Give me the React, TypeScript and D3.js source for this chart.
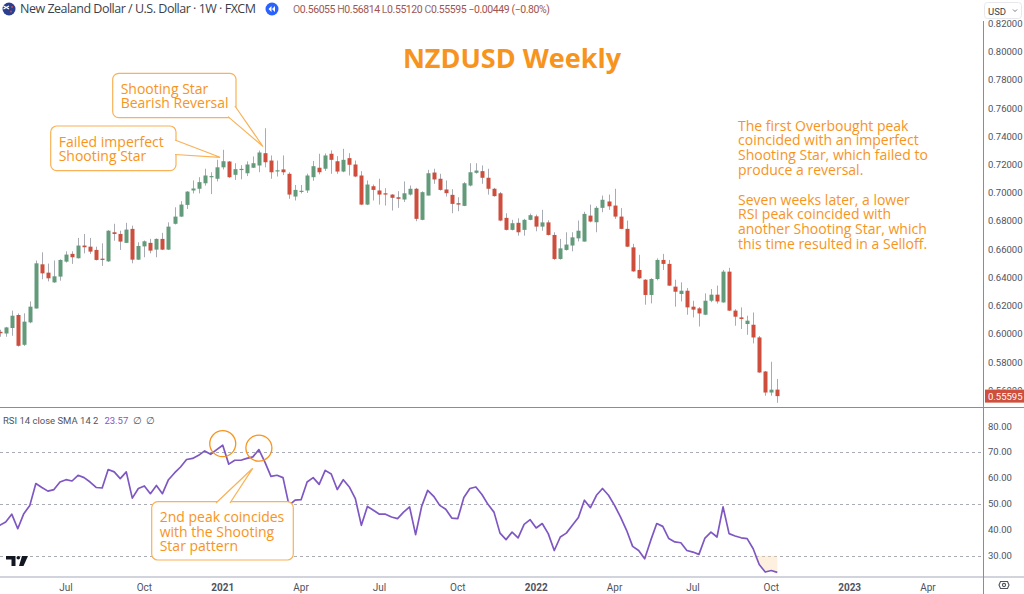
import React from "react";
import * as d3 from "d3";

const W = 1024;
const H = 594;

// weekly FXCM bars, week starts on Sunday
const firstWeek = new Date(2020, 3, 19);

const open = [
  0.6015, 0.6003, 0.6042, 0.6134, 0.5923, 0.6082, 0.618, 0.6493, 0.6434, 0.6365,
  0.6406, 0.6512, 0.6567, 0.6536, 0.6626, 0.6618, 0.6595, 0.6533, 0.6514, 0.672,
  0.6708, 0.6645, 0.6744, 0.6526, 0.662, 0.6645, 0.6597, 0.6673, 0.6597, 0.678,
  0.6831, 0.6914, 0.7016, 0.7028, 0.7067, 0.711, 0.7099, 0.718, 0.7221, 0.7127,
  0.7163, 0.7138, 0.7177, 0.7193, 0.728, 0.7228, 0.7154, 0.7165, 0.7134, 0.6973,
  0.7008, 0.7016, 0.711, 0.7177, 0.717, 0.7276, 0.7223, 0.715, 0.7245, 0.72,
  0.7122, 0.6916, 0.7046, 0.7016, 0.6996, 0.6987, 0.6968, 0.6952, 0.6987, 0.7028,
  0.6808, 0.698, 0.7143, 0.7099, 0.7023, 0.6985, 0.6926, 0.6907, 0.7051, 0.7141,
  0.7153, 0.7106, 0.7028, 0.6996, 0.6822, 0.6737, 0.6787, 0.6737, 0.6808, 0.6833,
  0.676, 0.679, 0.6701, 0.6531, 0.6595, 0.6626, 0.6677, 0.6654, 0.6838, 0.6791,
  0.6893, 0.6938, 0.6909, 0.6831, 0.6744, 0.6613, 0.6453, 0.6384, 0.6276, 0.6389,
  0.6524, 0.6496, 0.6335, 0.6283, 0.6306, 0.6193, 0.6181, 0.6136, 0.6235, 0.6278,
  0.6223, 0.6441, 0.6165, 0.6117, 0.607, 0.6065, 0.5975, 0.5734, 0.5585, 0.56055,
];
const high = [
  0.603, 0.605, 0.6165, 0.6145, 0.6146, 0.623, 0.652, 0.6578, 0.6498, 0.652,
  0.6528, 0.6585, 0.6585, 0.668, 0.6708, 0.668, 0.6618, 0.6642, 0.6735, 0.678,
  0.6731, 0.6787, 0.6767, 0.6649, 0.6662, 0.6673, 0.6676, 0.6716, 0.679, 0.6897,
  0.694, 0.7011, 0.7087, 0.711, 0.717, 0.7145, 0.7233, 0.7304, 0.7225, 0.7209,
  0.7195, 0.7222, 0.7257, 0.7299, 0.7457, 0.7264, 0.7228, 0.7264, 0.7145, 0.7055,
  0.7055, 0.7135, 0.7225, 0.7276, 0.7278, 0.73, 0.7259, 0.7311, 0.728, 0.7228,
  0.7153, 0.7087, 0.7058, 0.7099, 0.7032, 0.699, 0.7011, 0.708, 0.7051, 0.7035,
  0.701, 0.7162, 0.717, 0.7134, 0.7087, 0.7025, 0.6968, 0.7075, 0.7209, 0.7209,
  0.7193, 0.717, 0.7035, 0.7005, 0.6855, 0.6808, 0.6819, 0.6815, 0.6852, 0.6845,
  0.6879, 0.6805, 0.672, 0.6673, 0.672, 0.672, 0.6803, 0.6865, 0.6916, 0.6905,
  0.698, 0.6987, 0.7028, 0.6891, 0.6803, 0.6638, 0.656, 0.6388, 0.6395, 0.6535,
  0.6567, 0.6524, 0.6384, 0.6365, 0.6325, 0.6235, 0.619, 0.6287, 0.6318, 0.6342,
  0.6453, 0.6468, 0.6175, 0.6188, 0.6129, 0.6152, 0.5985, 0.5738, 0.5803, 0.56814,
];
const low = [
  0.598, 0.598, 0.5987, 0.591, 0.5915, 0.6075, 0.618, 0.6387, 0.6372, 0.6362,
  0.6377, 0.6505, 0.6496, 0.6534, 0.6571, 0.6567, 0.652, 0.6482, 0.651, 0.666,
  0.6595, 0.6643, 0.65, 0.6524, 0.6543, 0.6571, 0.6543, 0.6594, 0.6594, 0.6775,
  0.6828, 0.6885, 0.6995, 0.6995, 0.705, 0.699, 0.708, 0.7165, 0.7105, 0.7091,
  0.7095, 0.7118, 0.7175, 0.7145, 0.718, 0.7099, 0.7115, 0.7125, 0.6957, 0.6945,
  0.6995, 0.6998, 0.7085, 0.713, 0.7155, 0.7134, 0.7134, 0.7145, 0.7122, 0.711,
  0.6912, 0.6912, 0.6945, 0.6916, 0.6909, 0.6874, 0.6893, 0.6935, 0.698, 0.6798,
  0.6805, 0.698, 0.7063, 0.7015, 0.6973, 0.6855, 0.6869, 0.6905, 0.7045, 0.7135,
  0.7063, 0.6987, 0.6972, 0.6798, 0.6733, 0.6733, 0.6696, 0.6696, 0.6805, 0.6727,
  0.6731, 0.6697, 0.6524, 0.6526, 0.659, 0.6585, 0.6655, 0.6654, 0.679, 0.672,
  0.6862, 0.6879, 0.6815, 0.6742, 0.6615, 0.644, 0.639, 0.6207, 0.6216, 0.638,
  0.6453, 0.634, 0.6193, 0.623, 0.6136, 0.6117, 0.6053, 0.6133, 0.6225, 0.6215,
  0.6222, 0.6162, 0.6058, 0.6035, 0.5994, 0.5933, 0.5725, 0.5562, 0.5562, 0.5512,
];
const close = [
  0.6005, 0.6046, 0.6129, 0.5916, 0.6087, 0.6193, 0.65, 0.6429, 0.6394, 0.6408,
  0.6524, 0.6562, 0.6543, 0.6626, 0.6614, 0.6583, 0.6524, 0.6524, 0.6731, 0.6708,
  0.6654, 0.6739, 0.6526, 0.6623, 0.6656, 0.659, 0.6673, 0.6597, 0.676, 0.6831,
  0.6916, 0.7008, 0.703, 0.7075, 0.7122, 0.7118, 0.718, 0.7223, 0.711, 0.7167,
  0.7169, 0.72, 0.7209, 0.7285, 0.7216, 0.7145, 0.7159, 0.7145, 0.6987, 0.702,
  0.7014, 0.7122, 0.7188, 0.7145, 0.7264, 0.7233, 0.715, 0.7233, 0.7198, 0.7115,
  0.6916, 0.7058, 0.702, 0.6987, 0.6987, 0.6964, 0.6957, 0.6996, 0.7028, 0.6815,
  0.7004, 0.7138, 0.7094, 0.702, 0.6997, 0.6921, 0.6916, 0.7067, 0.7145, 0.7157,
  0.7106, 0.7028, 0.6976, 0.6803, 0.6737, 0.6784, 0.672, 0.6808, 0.6841, 0.676,
  0.679, 0.6701, 0.6531, 0.6606, 0.6633, 0.6684, 0.6731, 0.685, 0.6796, 0.6893,
  0.695, 0.6904, 0.6831, 0.6744, 0.6618, 0.6443, 0.6394, 0.6276, 0.6389, 0.6524,
  0.6496, 0.6342, 0.6299, 0.6306, 0.6188, 0.6172, 0.6145, 0.6235, 0.6278, 0.623,
  0.6441, 0.6165, 0.6122, 0.6106, 0.6094, 0.5975, 0.5727, 0.5585, 0.5605, 0.55595,
];

// RSI 14 on weekly closes
const rsi = [
  41.7, 43, 46, 40.4, 46.2, 49.4, 57.8, 56.3, 54.9, 55.5,
  58.4, 59.3, 58.8, 61, 60.1, 58.4, 56.3, 56.1, 63.2, 62.3,
  59.7, 62.3, 52.2, 55.9, 56.9, 53.9, 57.1, 53.9, 59.3, 61.9,
  64.2, 67.1, 67.5, 68.7, 70.4, 69.1, 70.9, 72.6, 65.3, 66.8,
  66.8, 67.5, 68.1, 70.9, 66.1, 60.6, 61, 60.1, 49.4, 51.4,
  51.6, 58.4, 60.1, 57.5, 62.9, 61.5, 55.5, 59.3, 56.5, 52,
  41.7, 49, 47.5, 46, 46, 44.9, 44.3, 46.8, 48.8, 38.1,
  49, 55.2, 52.9, 49.4, 47.9, 44.5, 44.3, 52.4, 55.9, 56.5,
  53.6, 49.8, 46.8, 38.7, 36.2, 39.1, 36.9, 42.1, 43.9, 40.7,
  42.4, 38.5, 32, 37.2, 38.7, 41.7, 44.7, 51.4, 48.5, 53.3,
  55.9, 53.3, 49.4, 44.9, 39.8, 33.6, 32, 28.8, 35.9, 42.4,
  41.3, 36.6, 35.3, 35, 32, 31.4, 30.5, 36.8, 39.1, 37.2,
  48.8, 38.5, 37.6, 36.9, 36.6, 32.7, 26.6, 23.7, 24.3, 23.57,
];

const priceTicks = [0.82, 0.8, 0.78, 0.76, 0.74, 0.72, 0.7, 0.68, 0.66, 0.64, 0.62, 0.6, 0.58, 0.56];
const rsiTicks = [80, 70, 60, 50, 40, 30];
const rsiLevels = [70, 50, 30];
const timeTickDates = [
  new Date(2020, 6, 5), new Date(2020, 9, 4), new Date(2021, 0, 3), new Date(2021, 3, 4),
  new Date(2021, 6, 4), new Date(2021, 9, 3), new Date(2022, 0, 2), new Date(2022, 3, 3),
  new Date(2022, 6, 3), new Date(2022, 9, 2), new Date(2023, 0, 1), new Date(2023, 3, 2),
];
const timeTickLabels = ["Jul", "Oct", "2021", "Apr", "Jul", "Oct", "2022", "Apr", "Jul", "Oct", "2023", "Apr"];

const failedStarBar = 37;
const reversalStarBar = 43;

const ORANGE = "#f7941d";
const BOX = "#f8b257";
const UP = "#639a7a";
const DOWN = "#cd4e3d";
const WICK = "#a8abb3";
const AXIS_TEXT = "#50535e";
const ANNO_FONT = "'Open Sans', sans-serif";
const UI_FONT = "Roboto, sans-serif";

const PANE_RIGHT = 983;
const PRICE_BOTTOM = 407;
const RSI_BOTTOM = 577;

const x = d3
  .scaleTime()
  .domain([timeTickDates[0], timeTickDates[timeTickDates.length - 1]])
  .range([66, 928]);
const yPrice = d3.scaleLinear().domain([0.56, 0.82]).range([390.4, 23.3]);
const yRsi = d3.scaleLinear().domain([30, 80]).range([555.7, 426]);

const bars = open.map((o, i) => ({
  date: d3.timeWeek.offset(firstWeek, i),
  o,
  h: high[i],
  l: low[i],
  c: close[i],
  r: rsi[i],
}));

// rounded box with a pointer; base points sit just inside the box
function Callout({ x0, y0, w, h, base, tip, lines, lineGap, size }) {
  const pointer = `M${base[0][0]},${base[0][1]}L${tip[0]},${tip[1]}L${base[1][0]},${base[1][1]}`;
  return (
    <g>
      <rect x={x0} y={y0} width={w} height={h} rx={6} fill="#fff" stroke={BOX} strokeWidth={1.2} />
      <path d={pointer} fill="#fff" stroke={BOX} strokeWidth={1.2} />
      {lines.map((t, i) => (
        <text
          key={i}
          x={x0 + 8}
          y={y0 + 15 + i * lineGap}
          dominantBaseline="central"
          fill={ORANGE}
          fontFamily={ANNO_FONT}
          fontSize={size}
        >
          {t}
        </text>
      ))}
    </g>
  );
}

export default function App() {
  const rsiLine = d3
    .line<any>()
    .x((d) => x(d.date))
    .y((d) => yRsi(d.r));
  const oversold = d3
    .area<any>()
    .x((d) => x(d.date))
    .y0(yRsi(30))
    .y1((d) => yRsi(Math.min(d.r, 30)));

  const noteLines = [
    "The first Overbought peak",
    "coincided with an imperfect",
    "Shooting Star, which failed to",
    "produce a reversal.",
    "",
    "Seven weeks later, a lower",
    "RSI peak coincided with",
    "another Shooting Star, which",
    "this time resulted in a Selloff.",
  ];

  const last = close[close.length - 1];

  return (
    <svg
      width={W}
      height={H}
      style={{ position: "absolute", left: 0, top: 0, background: "#fff" }}
    >
      <defs>
        <clipPath id="pricePane">
          <rect x={0} y={0} width={PANE_RIGHT} height={PRICE_BOTTOM} />
        </clipPath>
        <clipPath id="rsiPane">
          <rect x={0} y={PRICE_BOTTOM} width={PANE_RIGHT} height={RSI_BOTTOM - PRICE_BOTTOM} />
        </clipPath>
        <clipPath id="hiddenTick">
          <rect x={984} y={0} width={40} height={yPrice(last) - 6.5} />
        </clipPath>
      </defs>
      <rect width={W} height={H} fill="#fff" />

      {/* candles */}
      <g clipPath="url(#pricePane)">
        {bars.map((b, i) => {
          const cx = Math.round(x(b.date));
          const top = yPrice(Math.max(b.o, b.c));
          const bot = yPrice(Math.min(b.o, b.c));
          return (
            <g key={i}>
              <line x1={cx + 0.5} x2={cx + 0.5} y1={yPrice(b.h)} y2={yPrice(b.l)} stroke={WICK} />
              <rect
                x={cx - 1.5}
                y={top}
                width={4}
                height={Math.max(1.2, bot - top)}
                fill={b.c >= b.o ? UP : DOWN}
              />
            </g>
          );
        })}
      </g>

      {/* header */}
      <g>
        <circle cx={9} cy={9} r={6.5} fill="#2b3f8f" />
        <path d="M3.5,6 L9,9 M3.5,9 L9,6" stroke="#fff" strokeWidth={1.4} />
        <circle cx={12} cy={7} r={1} fill="#e0403a" />
        <circle cx={11} cy={11.5} r={1} fill="#e0403a" />
        <text
          x={20}
          y={13}
          fontFamily={ANNO_FONT}
          fontSize={12.5}
          fill="#3c3f4a"
          textLength={236}
          lengthAdjust="spacing"
        >
          New Zealand Dollar / U.S. Dollar · 1W · FXCM
        </text>
        <circle cx={272} cy={9} r={6.5} fill="#2962ff" />
        <path d="M271.5,6 L268.5,9 L271.5,12 Z M275,6 L272,9 L275,12 Z" fill="#fff" />
        <text
          x={293}
          y={13}
          fontFamily={UI_FONT}
          fontSize={10.5}
          fill="#a2544e"
          textLength={257}
          lengthAdjust="spacing"
        >
          <tspan fill="#8d7472">O</tspan>0.56055 <tspan fill="#8d7472">H</tspan>0.56814{" "}
          <tspan fill="#8d7472">L</tspan>0.55120 <tspan fill="#8d7472">C</tspan>0.55595 −0.00449 (−0.80%)
        </text>
      </g>

      {/* title */}
      <text
        x={512}
        y={57}
        textAnchor="middle"
        dominantBaseline="central"
        fontFamily={ANNO_FONT}
        fontWeight={700}
        fontSize={27}
        fill={ORANGE}
      >
        NZDUSD Weekly
      </text>

      {/* right note */}
      <g>
        {noteLines.map((t, i) => (
          <text
            key={i}
            x={738}
            y={125 + i * 14.8}
            dominantBaseline="central"
            fontFamily={ANNO_FONT}
            fontSize={14}
            fill={ORANGE}
          >
            {t}
          </text>
        ))}
      </g>

      {/* price callouts */}
      <Callout
        x0={112.7}
        y0={73.3}
        w={123.3}
        h={44.4}
        base={[
          [228, 116.6],
          [234.9, 106],
        ]}
        tip={[263, 146.5]}
        lines={["Shooting Star", "Bearish Reversal"]}
        lineGap={14}
        size={14}
      />
      <Callout
        x0={50.7}
        y0={126}
        w={125.3}
        h={44.7}
        base={[
          [175, 140],
          [175, 154.5],
        ]}
        tip={[220, 157.3]}
        lines={["Failed imperfect", "Shooting Star"]}
        lineGap={14.5}
        size={14}
      />

      {/* RSI pane */}
      <g>
        {rsiLevels.map((v) => (
          <line
            key={v}
            x1={0}
            x2={PANE_RIGHT}
            y1={Math.round(yRsi(v)) + 0.5}
            y2={Math.round(yRsi(v)) + 0.5}
            stroke="#a9acb4"
            strokeDasharray="3,3"
          />
        ))}
        <g clipPath="url(#rsiPane)">
          <path d={oversold(bars) || ""} fill="#fbd9ae" opacity={0.4} />
          <path d={rsiLine(bars) || ""} fill="none" stroke="#7e57c2" strokeWidth={1.7} strokeLinejoin="round" />
        </g>
        <text x={3} y={420} dominantBaseline="central" fontFamily={UI_FONT} fontSize={9.5} fill={AXIS_TEXT}>
          RSI 14 close SMA 14 2
          <tspan dx={6} fill="#7e57c2">
            {d3.format(".2f")(rsi[rsi.length - 1])}
          </tspan>
          <tspan dx={5}>∅</tspan>
          <tspan dx={4}>∅</tspan>
        </text>

        {[failedStarBar, reversalStarBar].map((i) => (
          <circle
            key={i}
            cx={x(bars[i].date)}
            cy={yRsi(bars[i].r) - 1.5}
            r={13}
            fill="none"
            stroke={ORANGE}
            strokeWidth={1.3}
          />
        ))}
        <Callout
          x0={151.7}
          y0={501.7}
          w={141.6}
          h={58.3}
          base={[
            [216, 503],
            [230, 503],
          ]}
          tip={[252.7, 468.3]}
          lines={["2nd peak coincides", "with the Shooting", "Star pattern"]}
          lineGap={14.3}
          size={14}
        />

        {/* logo */}
        <path d="M6,556 H15.5 V566 H11.5 V559.5 H6 Z" fill="#131722" />
        <circle cx={18.3} cy={557.8} r={1.8} fill="#131722" />
        <path d="M22,556 H28 L23.5,566 H19 Z" fill="#131722" />
      </g>

      {/* pane borders */}
      <line x1={0} x2={W} y1={PRICE_BOTTOM + 0.5} y2={PRICE_BOTTOM + 0.5} stroke="#8a8d96" />
      <line x1={0} x2={W} y1={RSI_BOTTOM} y2={RSI_BOTTOM} stroke="#d1d4dc" strokeWidth={2} />
      <line x1={PANE_RIGHT + 0.5} x2={PANE_RIGHT + 0.5} y1={21} y2={H} stroke="#8a8d96" />

      {/* price axis; the lowest tick sits mostly under the last-price tag */}
      <g fontFamily={UI_FONT} fontSize={9.5} fill={AXIS_TEXT}>
        {priceTicks.map((p) => (
          <text
            key={p}
            x={988}
            y={yPrice(p)}
            dominantBaseline="central"
            clipPath={yPrice(p) > yPrice(last) - 12 ? "url(#hiddenTick)" : undefined}
          >
            {d3.format(".5f")(p)}
          </text>
        ))}
      </g>
      <rect x={985} y={yPrice(last) - 6.5} width={39} height={13} fill="#cf4f3c" />
      <text
        x={988}
        y={yPrice(last)}
        dominantBaseline="central"
        fontFamily={UI_FONT}
        fontSize={9.5}
        fill="#fff"
      >
        {d3.format(".5f")(last)}
      </text>

      {/* rsi axis */}
      <g fontFamily={UI_FONT} fontSize={9.5} fill={AXIS_TEXT}>
        {rsiTicks.map((v) => (
          <text key={v} x={988} y={yRsi(v)} dominantBaseline="central">
            {d3.format(".2f")(v)}
          </text>
        ))}
      </g>

      {/* time axis */}
      <g fontFamily={UI_FONT} fontSize={10} fill={AXIS_TEXT}>
        {timeTickDates.map((d, i) => (
          <text
            key={i}
            x={x(d)}
            y={587}
            textAnchor="middle"
            dominantBaseline="central"
            fontWeight={/^\d/.test(timeTickLabels[i]) ? 700 : 400}
          >
            {timeTickLabels[i]}
          </text>
        ))}
      </g>

      {/* currency selector and settings */}
      <rect x={984.5} y={2.5} width={37} height={16} rx={3} fill="#fff" stroke="#e6e8ee" />
      <text x={988} y={11} dominantBaseline="central" fontFamily={UI_FONT} fontSize={9.5} fill="#3c3f4a">
        USD
      </text>
      <path d="M1013,9.5 L1015,11.5 L1017,9.5" fill="none" stroke="#6a6d78" strokeWidth={0.9} />
      <path
        d="M1000.5,581.5 L1007.5,581.5 L1009,585 L1007.5,588.5 L1000.5,588.5 L999,585 Z"
        fill="none"
        stroke="#50535e"
        strokeWidth={1.1}
      />
      <circle cx={1004} cy={585} r={1.6} fill="none" stroke="#50535e" strokeWidth={1.1} />
    </svg>
  );
}
